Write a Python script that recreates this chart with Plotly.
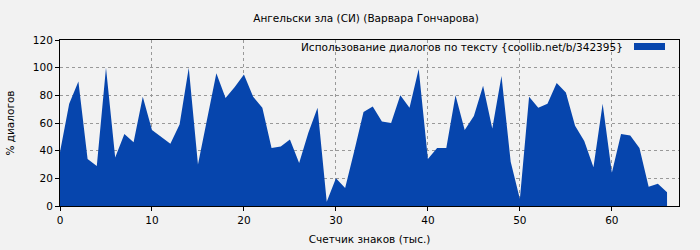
import plotly.graph_objects as go

x_vals = list(range(0, 67))
dialog_pct = [39, 74, 90, 34, 29, 100, 35, 52, 46, 79,
              55, 50, 45, 59, 100, 30, 64, 96, 78, 86,
              95, 79, 71, 42, 43, 48, 31, 53, 71, 3,
              20, 13, 40, 68, 72, 61, 60, 80, 71, 99,
              34, 42, 42, 80, 55, 65, 87, 56, 94, 32,
              5, 79, 71, 74, 89, 82, 58, 47, 28, 74,
              24, 52, 51, 42, 14, 16, 10]
x_ticks = [0, 10, 20, 30, 40, 50, 60]
y_ticks = [0, 20, 40, 60, 80, 100, 120]

title = "Ангельски зла (СИ) (Варвара Гончарова)"
legend_text = "Использование диалогов по тексту {coollib.net/b/342395}"
x_title = "Счетчик знаков (тыс.)"
y_title = "% диалогов"

fill_color = "#0645ad"
font = "DejaVu Sans"
fs = 10.5

fig = go.Figure()
fig.add_trace(go.Scatter(
    x=x_vals, y=dialog_pct, mode="lines", fill="tozeroy",
    line=dict(color=fill_color, width=0), fillcolor=fill_color,
    showlegend=False, hoverinfo="skip"))

fig.update_layout(
    width=700, height=250,
    margin=dict(l=60, r=21, t=40, b=44),
    paper_bgcolor="#f2f2f2", plot_bgcolor="#f2f2f2",
    font=dict(family=font, size=fs, color="#000"),
    title=dict(text=title, x=0.523, xanchor="center", y=0.928, yanchor="middle",
               font=dict(size=fs, family=font)),
    showlegend=False,
)
fig.update_xaxes(
    range=[0, 67.3], tickvals=x_ticks, ticks="outside", ticklen=4, tickcolor="#000",
    showline=True, linecolor="#000", linewidth=1, mirror=True, automargin=False,
    showgrid=True, gridcolor="#999", griddash="dot", gridwidth=1, zeroline=False,
    title=dict(text=x_title, font=dict(size=fs), standoff=11),
    tickfont=dict(size=fs))
fig.update_yaxes(
    range=[0, 120], tickvals=y_ticks, ticks="outside", ticklen=4, tickcolor="#000",
    showline=True, linecolor="#000", linewidth=1, mirror=True, automargin=False,
    showgrid=True, gridcolor="#999", griddash="dot", gridwidth=1, zeroline=False,
    title=dict(text=y_title, font=dict(size=fs), standoff=16),
    tickfont=dict(size=fs))

fig.add_annotation(xref="paper", yref="paper", x=(625 - 60) / 619, y=(206 - 47) / 166,
                   text=legend_text, showarrow=False, xanchor="right", yanchor="middle",
                   font=dict(size=fs, family=font))
fig.add_shape(type="rect", xref="paper", yref="paper",
              x0=(634 - 60) / 619, x1=(665 - 60) / 619,
              y0=(206 - 50) / 166, y1=(206 - 43) / 166,
              fillcolor=fill_color, line=dict(width=0))

fig.write_html("out.html")
